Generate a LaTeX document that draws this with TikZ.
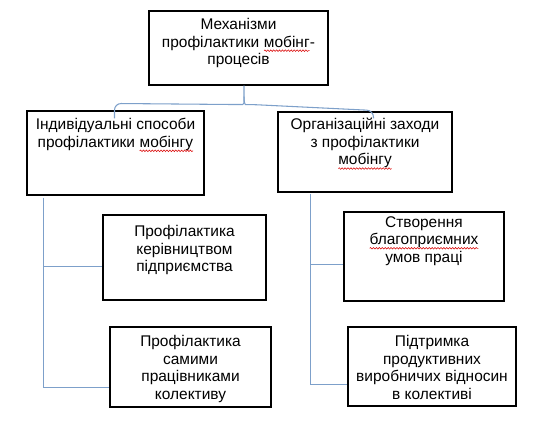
\documentclass[tikz,border=0pt]{standalone}
\usepackage{fontspec}
\setmainfont{Liberation Sans}
\usetikzlibrary{fit,calc,decorations.pathmorphing}
\definecolor{connblue}{RGB}{125,160,202}
\newcommand\redwave[1]{\tikz[baseline=(w.base)]{\node[inner sep=0pt,outer sep=0pt,anchor=base west] (w) at (0,0) {#1};
  \draw[red!85!black, line width=0.4pt, decorate, decoration={snake, amplitude=0.6pt, segment length=2.2pt}]
   ([yshift=-2.7pt]w.base west) -- ([yshift=-2.7pt]w.base east);}}
\tikzset{
  box/.style={draw=black, line width=0.8pt, inner sep=0pt},
  txt/.style={anchor=north, inner sep=0pt, align=center, font=\fontsize{11.6}{13.2}\selectfont},
  conn/.style={draw=connblue, line width=0.8pt}
}
\begin{document}
\begin{tikzpicture}[x=0.75pt,y=-0.75pt]
\useasboundingbox (0,0) rectangle (542,421);
% boxes
\node[box, fit={(149,11)(328,85)}] (top) {};
\node[box, fit={(27,111)(204,195)}] (b1) {};
\node[box, fit={(278,112)(452,192)}] (b2) {};
\node[box, fit={(103,215)(266,300)}] (b3) {};
\node[box, fit={(110,327)(271,407)}] (b4) {};
\node[box, fit={(344,212)(504,301)}] (b5) {};
\node[box, fit={(348,327)(516,406)}] (b6) {};
% texts
\node[txt] (t0) at (238.5,18) {Механізми\\профілактики \redwave{мобінг}-\\процесів};
\node[txt] (t1) at (115.5,118) {Індивідуальні способи\\профілактики \redwave{мобінгу}};
\node[txt] (t2) at (365,118) {Організаційні заходи\\з профілактики\\\redwave{мобінгу}};
\node[txt] (t3) at (184.5,225) {Профілактика\\керівництвом\\підприємства};
\node[txt] (t4) at (190.5,335) {Профілактика\\самими\\працівниками\\колективу};
\node[txt] (t5) at (424,216) {Створення\\\redwave{благоприємних}\\умов праці};
\node[txt] (t6) at (432,335) {Підтримка\\продуктивних\\виробничих відносин\\в колективі};
% bracket from top box to the two second-level boxes
\coordinate (cusp) at ($(top.south)+(5.5,0)$);
\coordinate (lend) at ($(b1.north west)+(88,8)$);
\coordinate (rend) at ($(b2.north west)+(96,7)$);
\draw[conn, rounded corners=5pt] (lend) -- ($(lend)+(0,-15)$) -- ($(cusp)+(-8,19)$)
  .. controls ($(cusp)+(-1,19)$) and ($(cusp)+(0,17)$) .. ($(cusp)+(0,11)$) -- (cusp);
\draw[conn, rounded corners=5pt] (rend) -- ($(rend)+(0,-8)$) -- ($(cusp)+(8,19)$)
  .. controls ($(cusp)+(1,19)$) and ($(cusp)+(0,17)$) .. ($(cusp)+(0,11)$);
% left branch
\coordinate (l0) at ($(b1.south west)+(17,2)$);
\coordinate (a3) at ($(b3.south west)+(0,-34)$);
\coordinate (a4) at ($(b4.south west)+(0,-20)$);
\draw[conn] (l0) -- (l0 |- a4) -- (a4);
\draw[conn] (l0 |- a3) -- (a3);
% right branch
\coordinate (r0) at ($(b2.south west)+(33,1)$);
\coordinate (a5) at ($(b5.south west)+(0,-37)$);
\coordinate (a6) at ($(b6.south west)+(0,-22)$);
\draw[conn] (r0) -- (r0 |- a6) -- (a6);
\draw[conn] (r0 |- a5) -- (a5);
\end{tikzpicture}
\end{document}
